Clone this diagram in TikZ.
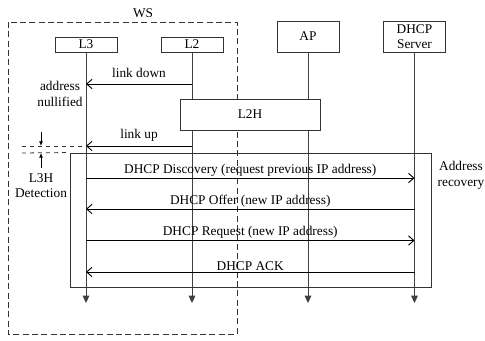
\documentclass[tikz,border=0pt]{standalone}
\usepackage{fontspec}
\setmainfont{Liberation Serif}
\usetikzlibrary{arrows.meta}

\begin{document}
\begin{tikzpicture}[x=0.75pt,y=-0.75pt,
  ent/.style={rectangle,draw=black!80,line width=0.7pt,fill=white,minimum width=46.5pt,inner sep=0pt,align=center},
  life/.style={draw=black!75,line width=0.7pt,-{Triangle[length=5.5pt,width=5pt]}},
  msg/.style={line width=0.7pt,-{Straight Barb[length=4pt,width=7pt]}},
  gaparrow/.style={line width=0.6pt,-{Latex[length=3.5pt,width=3pt]}},
  lbl/.style={above,inner sep=1pt}]
\useasboundingbox (0,0) rectangle (485,341);

% work station
\node (ws) at (143,13) {WS};
\draw[dashed,dash pattern=on 4.5pt off 2.5pt,line width=0.6pt,black!80] (8,22) rectangle (237,334);

% entities
\node[ent,minimum height=11.25pt] (l3) at (86,44.5) {L3};
\node[ent,minimum height=11.25pt] (l2) at (192,44.5) {L2};
\node[ent,minimum height=23.25pt] (ap) at (308,36.5) {AP};
\node[ent,minimum height=23.25pt] (dhcp) at (414.5,36.5) {DHCP\\[-1pt]Server};

\coordinate (l3e) at (86,303);
\coordinate (l2e) at (192,303);
\coordinate (ape) at (308,303);
\coordinate (dhcpe) at (414.5,303);

\draw[life] (l3) -- (l3e);
\draw[life] (l2) -- (l2e);
\draw[life] (ap) -- (ape);
\draw[life] (dhcp) -- (dhcpe);

% handover boxes
\node[ent,minimum width=105pt,minimum height=23.25pt] (l2h) at (250,114.5) {L2H};
\node[rectangle,draw=black!80,line width=0.7pt,minimum width=270.75pt,minimum height=100.5pt,inner sep=0pt] (rec) at (250.5,220) {};
\node[align=center] (rectxt) at (461,175) {Address\\recovery};

% link events
\draw[msg] (l2 |- 0,84) -- node[above,yshift=1pt] {link down} (l3 |- 0,84);
\node[align=center] (null) at (60,94) {address\\nullified};
\draw[msg] (l2 |- 0,146) -- node[above] {link up} (l3 |- 0,146);

% L3H detection delay
\draw[dashed,line width=0.6pt,black!80] (22,146) -- (l3 |- 0,146);
\draw[dashed,line width=0.6pt,black!80] (22,153) -- (rec.north west);
\draw[gaparrow] (41,132) -- (41,146);
\draw[gaparrow] (41,168) -- (41,153);
\node[align=center] (l3h) at (41,185.5) {L3H\\[-1pt]Detection};

% DHCP exchange
\draw[msg] (l3 |- 0,178) -- node[lbl] {DHCP Discovery (request previous IP address)} (dhcp |- 0,178);
\draw[msg] (dhcp |- 0,209) -- node[lbl] {DHCP Offer (new IP address)} (l3 |- 0,209);
\draw[msg] (l3 |- 0,240.5) -- node[lbl] {DHCP Request (new IP address)} (dhcp |- 0,240.5);
\draw[msg] (dhcp |- 0,272) -- node[lbl] {DHCP ACK} (l3 |- 0,272);
\end{tikzpicture}
\end{document}
